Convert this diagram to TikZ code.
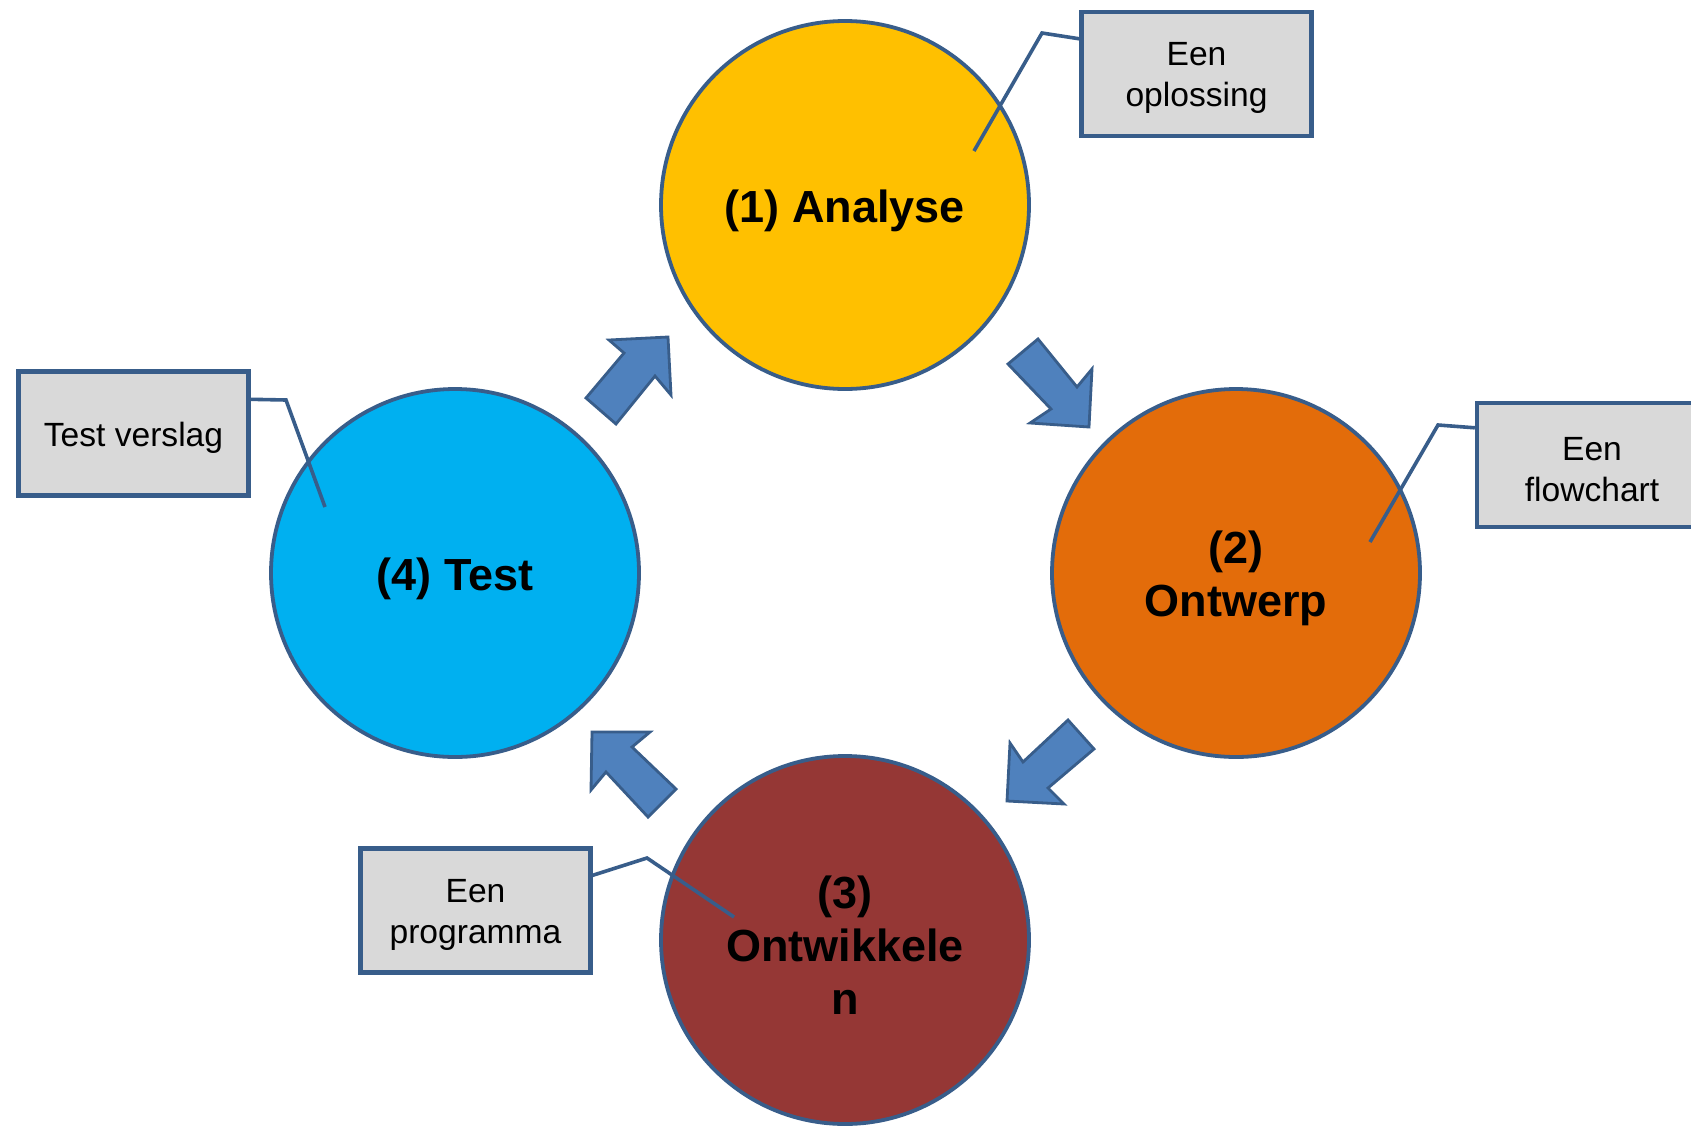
\documentclass[tikz,border=0pt]{standalone}
\usepackage{fontspec}
\setmainfont{Liberation Sans}
\definecolor{cyellow}{HTML}{FFC000}
\definecolor{corange}{HTML}{E36C0A}
\definecolor{cred}{HTML}{953735}
\definecolor{ccyan}{HTML}{00B0F0}
\definecolor{cblue}{HTML}{4F81BD}
\definecolor{cline}{HTML}{385D8A}
\definecolor{cgrey}{HTML}{D9D9D9}
\tikzset{
  phase/.style={circle, draw=cline, line width=1.9pt, minimum size=184pt, inner sep=0pt},
  phasetext/.style={align=center, font=\fontsize{22.5}{26.5}\selectfont\bfseries, text=black, yshift=-2.8pt, inner sep=0pt},
  label box/.style={rectangle, draw=cline, fill=cgrey, line width=2.2pt, minimum width=115pt,
    minimum height=62pt, inner sep=0pt},
  boxtext/.style={align=center, font=\fontsize{16.8}{20.5}\selectfont, yshift=-2.2pt, inner sep=0pt},
  callout/.style={draw=cline, line width=1.8pt, line join=miter},
  blockarrow/.style={draw=cline, fill=cblue, line width=1.4pt, line join=miter}
}
\begin{document}
\begin{tikzpicture}[x=0.5pt,y=-0.5pt]
\useasboundingbox (0,0) rectangle (1691,1125);
\clip (0,0) rectangle (1691,1125);
\fill[white] (0,0) rectangle (1691,1125);
% phases
\node[phase, fill=cyellow, label={[phasetext]center:(1) Analyse}] (analyse) at (845,205) {};
\node[phase, fill=corange, label={[phasetext]center:(2)\\Ontwerp}] (ontwerp) at (1236,573) {};
\node[phase, fill=cred, label={[phasetext]center:(3)\\Ontwikkele\\n}] (ontw) at (845,940) {};
\node[phase, fill=ccyan, label={[phasetext]center:(4) Test}] (test) at (455,573) {};
% block arrows
\draw[blockarrow] (586,398) -- (624,353) -- (609,340) -- (668,337) -- (671,395) -- (655,376) -- (616,424) -- cycle;
\draw[blockarrow] (1008,364) -- (1038,339) -- (1077,387) -- (1092,369) -- (1089,427) -- (1030,423) -- (1051,409) -- cycle;
\draw[blockarrow] (1010,743) -- (1023,762) -- (1068,720) -- (1094,749) -- (1048,788) -- (1064,804) -- (1007,801) -- cycle;
\draw[blockarrow] (592,732) -- (650,732) -- (632,747) -- (676,789) -- (648,817) -- (606,772) -- (591,790) -- cycle;
% label boxes
\node[label box, label={[boxtext]center:Een\\oplossing}] (b1) at (1196.5,74) {};
\node[label box, label={[boxtext]center:Een\\flowchart}] (b2) at (1592,465) {};
\node[label box, label={[boxtext]center:Test verslag}] (b3) at (133.5,433.5) {};
\node[label box, label={[boxtext]center:Een\\programma}] (b4) at (475.5,910.5) {};
% callout coordinates
\coordinate (k1) at (1042,33);
\coordinate (e1) at (974,151);
\coordinate (k2) at (1438,425);
\coordinate (e2) at (1370,542);
\coordinate (k3) at (286,400);
\coordinate (e3) at (325,507);
\coordinate (k4) at (647,858);
\coordinate (e4) at (734,917);
\draw[callout] ([yshift=-14.5pt]b1.north west) -- (k1) -- (e1);
\draw[callout] ([yshift=-13.5pt]b2.north west) -- (k2) -- (e2);
\draw[callout] ([yshift=-15pt]b3.north east) -- (k3) -- (e3);
\draw[callout] ([yshift=-14.5pt]b4.north east) -- (k4) -- (e4);
\end{tikzpicture}
\end{document}
